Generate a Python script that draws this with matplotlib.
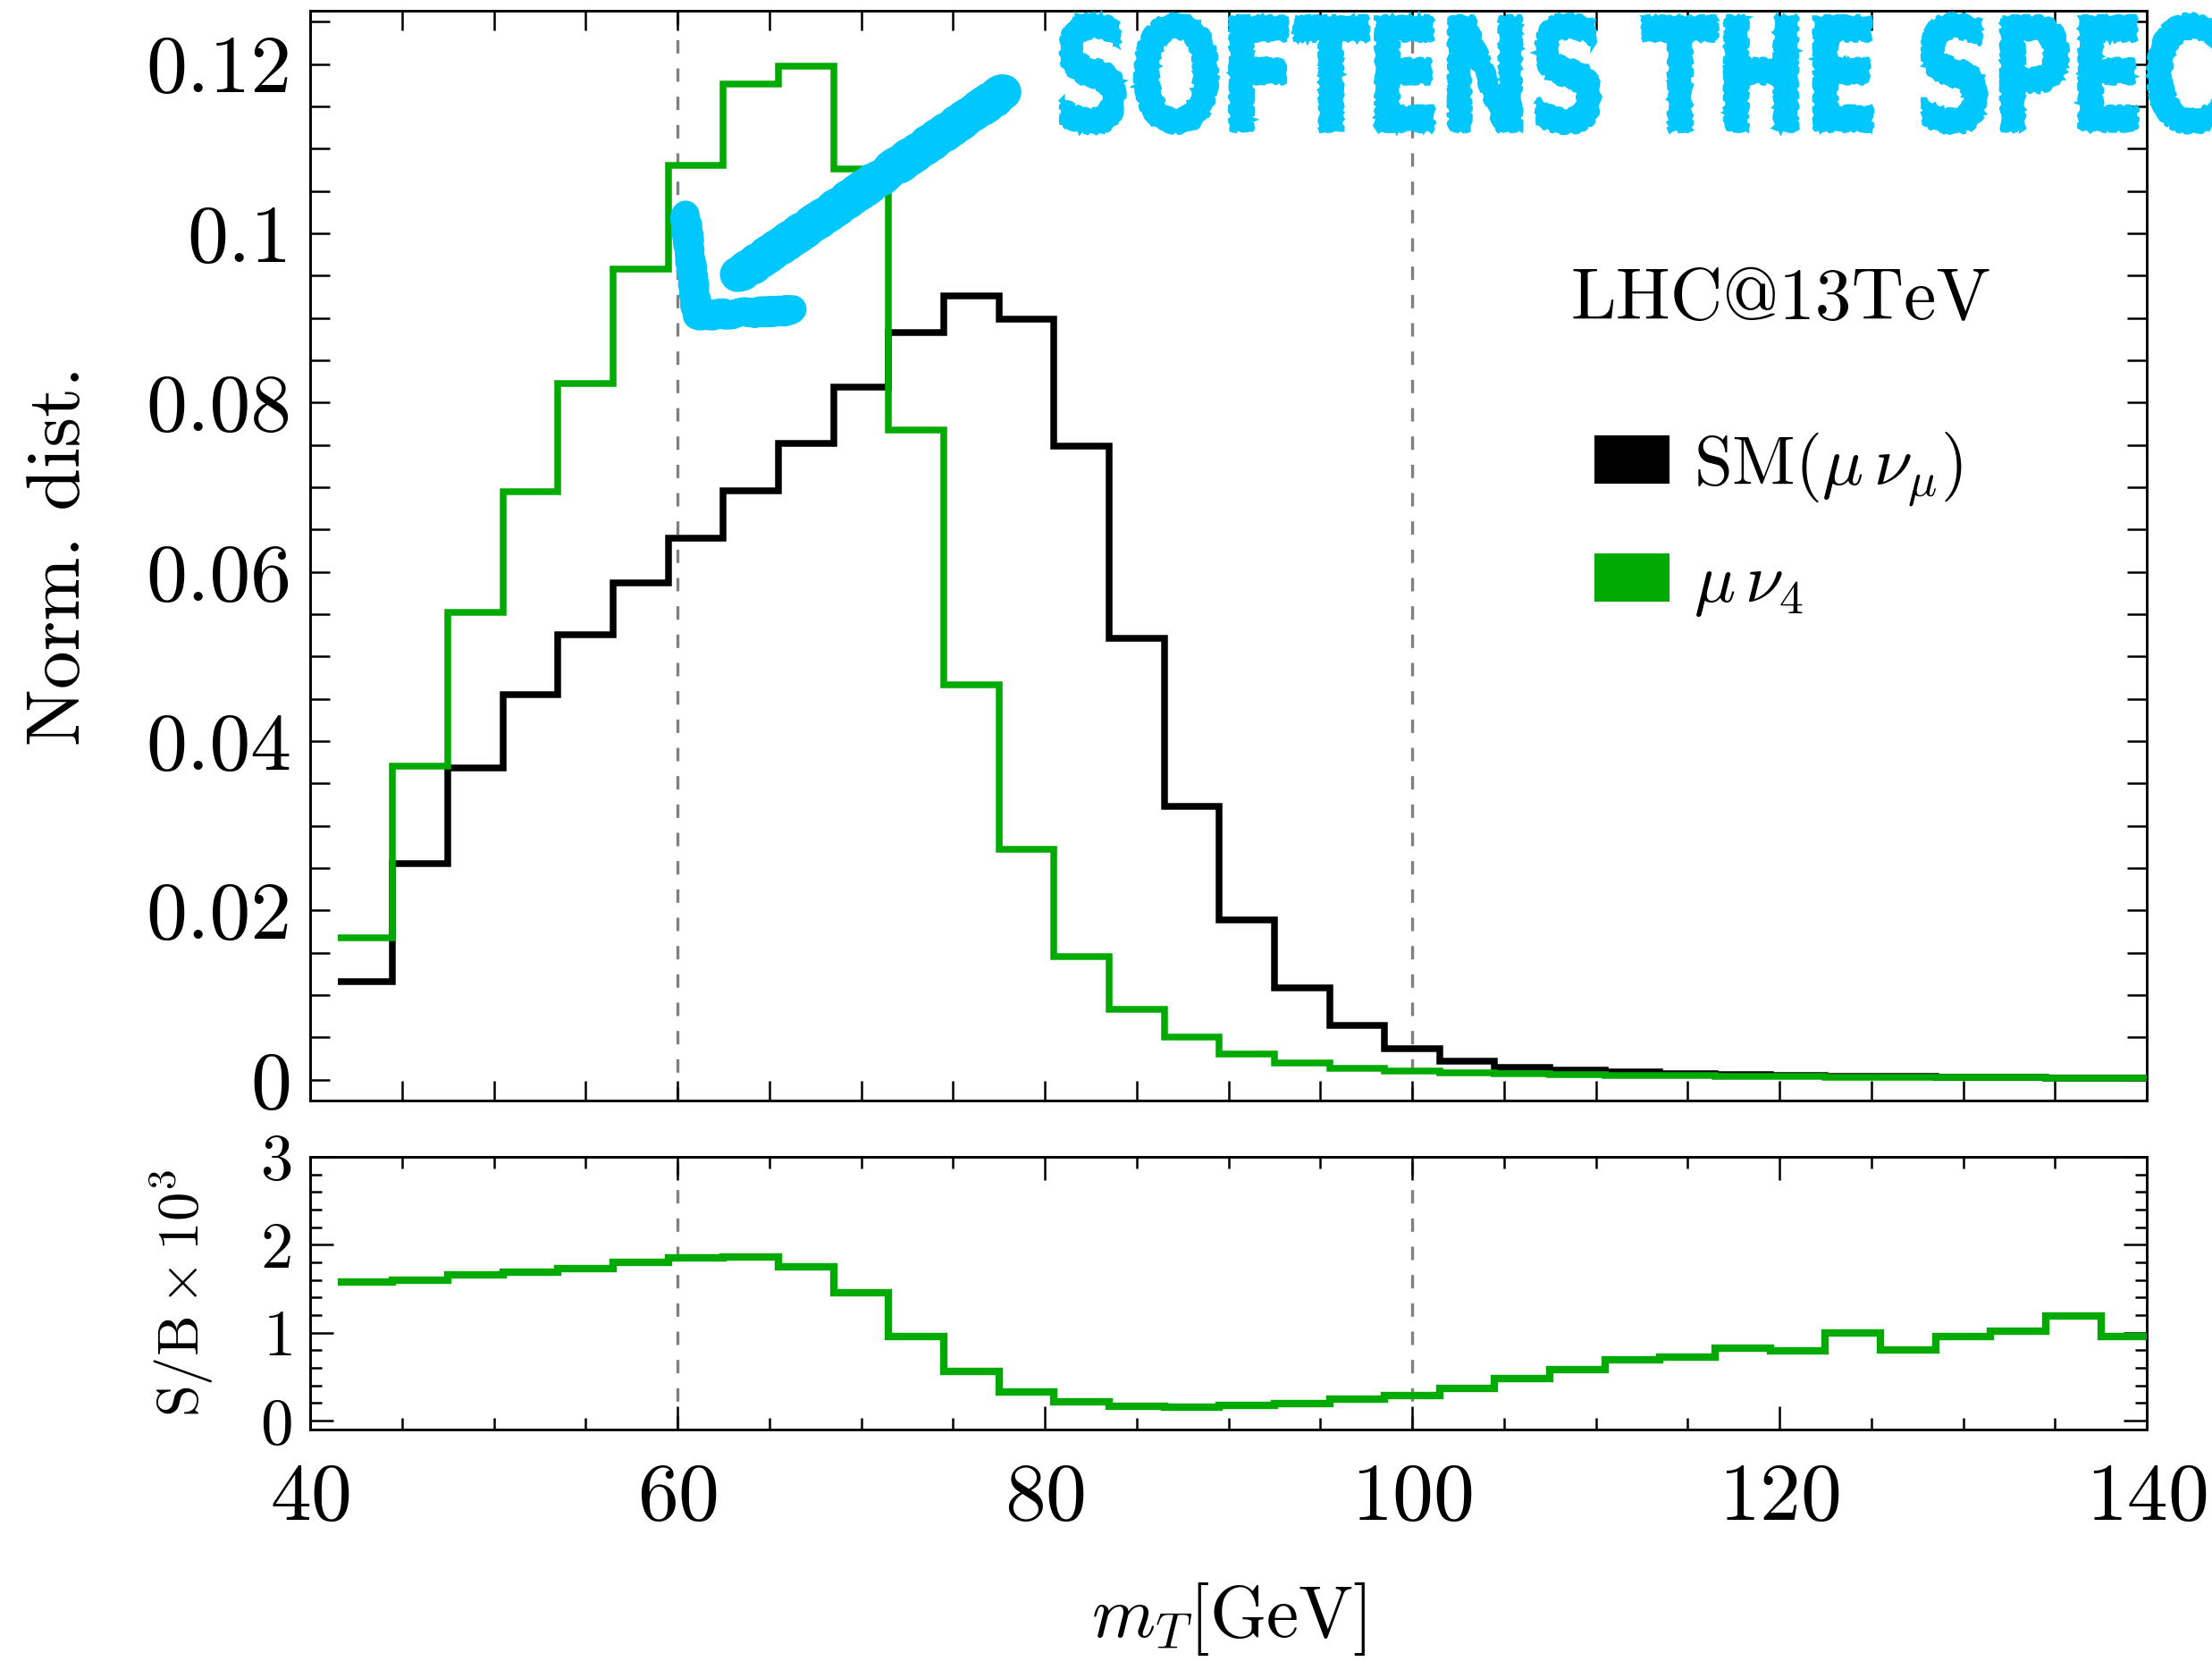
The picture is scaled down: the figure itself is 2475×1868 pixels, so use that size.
import matplotlib
matplotlib.use("Agg")
import matplotlib.pyplot as plt
import numpy as np
from matplotlib.patches import Patch, PathPatch
from matplotlib.lines import Line2D
from matplotlib.textpath import TextPath
from matplotlib.font_manager import FontProperties
from matplotlib.transforms import Affine2D
from matplotlib.ticker import MultipleLocator, FuncFormatter

# m_T bin edges [GeV]
bin_edges = [41.5, 44.5, 47.5, 50.5, 53.5, 56.5, 59.5, 62.5, 65.5, 68.5, 71.5,
             74.5, 77.5, 80.5, 83.5, 86.5, 89.5, 92.5, 95.5, 98.5, 101.5,
             104.5, 107.5, 110.5, 113.5, 116.5, 119.5, 122.5, 125.5, 128.5,
             131.5, 134.5, 137.5, 140.5]

# normalised distributions
sm_dist = [0.0116, 0.0255, 0.0368, 0.0455, 0.0526, 0.0587, 0.0640, 0.0696,
           0.0752, 0.0818, 0.0883, 0.0926, 0.0899, 0.0749, 0.0522, 0.0323,
           0.0189, 0.0109, 0.0064, 0.0037, 0.0022, 0.0015, 0.0011, 0.0009,
           0.0007, 0.0006, 0.0005, 0.0004, 0.0004, 0.0003, 0.0003, 0.0002,
           0.0002]
nu4_dist = [0.0168, 0.0370, 0.0552, 0.0695, 0.0823, 0.0958, 0.1080, 0.1176,
            0.1198, 0.1076, 0.0768, 0.0467, 0.0272, 0.0146, 0.0083, 0.0050,
            0.0030, 0.0020, 0.0014, 0.0010, 0.0008, 0.0007, 0.0006, 0.0005,
            0.0005, 0.0004, 0.0004, 0.0003, 0.0003, 0.0003, 0.0003, 0.0002,
            0.0002]

# S/B x 10^3
s_over_b = [1.578, 1.595, 1.656, 1.690, 1.727, 1.805, 1.856, 1.862, 1.754,
            1.453, 0.959, 0.557, 0.331, 0.216, 0.169, 0.159, 0.175, 0.196,
            0.243, 0.290, 0.371, 0.479, 0.581, 0.693, 0.723, 0.828, 0.795,
            0.997, 0.801, 0.959, 1.020, 1.189, 0.953]

series_labels = [r"SM$(\mu\,\nu_\mu)$", r"$\mu\,\nu_4$"]
ref_lines = [60, 100]

GREEN = "#00AA00"
CYAN = "#00C8FF"
W, H = 2475, 1868  # output size in pixels

plt.rcParams["font.family"] = ["cmr10", "DejaVu Serif"]
plt.rcParams["mathtext.fontset"] = "cm"
plt.rcParams["axes.unicode_minus"] = False
plt.rcParams["axes.formatter.use_mathtext"] = True
plt.rcParams["axes.linewidth"] = 0.7

fig = plt.figure(figsize=(W / 300, H / 300), dpi=300)
ax1 = fig.add_axes([347 / W, 1 - 1231 / H, 2055 / W, 1219 / H])
ax2 = fig.add_axes([347 / W, 1 - 1599 / H, 2055 / W, 305 / H])

# --- top panel ---
ax1.stairs(sm_dist, bin_edges, baseline=None, color="black", lw=1.8, zorder=3)
ax1.stairs(nu4_dist, bin_edges, baseline=None, color=GREEN, lw=1.8, zorder=4)
for x in ref_lines:
    ax1.axvline(x, color="#808080", lw=0.8, dashes=(4.5, 5), zorder=1)
ax1.set_xlim(40, 140)
ax1.set_ylim(-0.00245, 0.1263)
ax1.xaxis.set_major_locator(MultipleLocator(20))
ax1.xaxis.set_minor_locator(MultipleLocator(5))
ax1.yaxis.set_major_locator(MultipleLocator(0.02))
ax1.yaxis.set_minor_locator(MultipleLocator(0.005))
ax1.yaxis.set_major_formatter(FuncFormatter(lambda v, p: f"{v:g}"))
ax1.tick_params(which="both", direction="in", top=True, right=True,
                length=5.3, width=0.6, labelbottom=False, labelsize=22, pad=5)
ax1.set_ylabel("Norm. dist.", fontsize=20.5, labelpad=14)

ax1.text(1758 / W, 1 - 357 / H, "LHC@13TeV", transform=fig.transFigure,
         fontsize=19.5, ha="left", va="baseline")

handles = [Patch(facecolor="black", edgecolor="none", label=series_labels[0]),
           Patch(facecolor=GREEN, edgecolor="none", label=series_labels[1])]
ax1.legend(handles=handles, loc="upper left",
           bbox_to_anchor=(1784 / W, 1 - 481 / H), bbox_transform=fig.transFigure,
           frameon=False, fontsize=18.5, handlelength=1.09, handleheight=0.70,
           handletextpad=0.35, labelspacing=0.66, borderpad=0, borderaxespad=0)

# --- bottom panel ---
ax2.stairs(s_over_b, bin_edges, baseline=None, color=GREEN, lw=2.0, zorder=3)
for x in ref_lines:
    ax2.axvline(x, color="#808080", lw=0.8, dashes=(4.5, 5), zorder=1)
ax2.set_xlim(40, 140)
ax2.set_ylim(-0.1, 3)
ax2.xaxis.set_major_locator(MultipleLocator(20))
ax2.xaxis.set_minor_locator(MultipleLocator(5))
ax2.yaxis.set_major_locator(MultipleLocator(1))
ax2.yaxis.set_minor_locator(MultipleLocator(0.2))
ax2.tick_params(which="both", direction="in", top=True, right=True, width=0.6)
ax2.tick_params(which="major", length=6.2)
ax2.tick_params(which="minor", length=3.2)
ax2.tick_params(axis="x", labelsize=22, pad=9)
ax2.tick_params(axis="y", labelsize=17.5, pad=5)
ax2.set_ylabel(r"$\mathrm{S/B}\times10^3$", fontsize=15.5, labelpad=12)
ax2.set_xlabel(r"$m_T$[GeV]", fontsize=19.5, labelpad=12)

# --- hand-drawn style annotation ---
fp = FontProperties(family="DejaVu Sans", weight="bold")
ref_path = TextPath((0, 0), "SOFTENS THE SPE", size=172, prop=fp)
ext = ref_path.get_extents()
sx = 1202 / (ext.x1 - ext.x0)
note = TextPath((0, 0), "SOFTENS THE SPECTRUM", size=172, prop=fp)
to_fig = (Affine2D().translate(-ext.x0, 0).scale(sx, 1.0)
          .translate(1188, H - 145).scale(1 / W, 1 / H) + fig.transFigure)
note_patch = PathPatch(note, facecolor=CYAN, edgecolor=CYAN, lw=1.2,
                       transform=to_fig, zorder=10)
note_patch.set_sketch_params(scale=1.5, length=30, randomness=15)
fig.add_artist(note_patch)

shaft = Line2D([1123 / W, 826 / W], [1 - 103 / H, 1 - 308 / H],
               transform=fig.transFigure, color=CYAN, lw=9.5,
               solid_capstyle="round", zorder=10)
head = Line2D([767 / W, 780 / W, 887 / W], [1 - 240 / H, 1 - 353 / H, 1 - 347 / H],
              transform=fig.transFigure, color=CYAN, lw=7.5,
              solid_capstyle="round", solid_joinstyle="round", zorder=10)
for art in (shaft, head):
    art.set_sketch_params(scale=2, length=30, randomness=15)
    fig.add_artist(art)

fig.savefig("out.png", dpi=300)
